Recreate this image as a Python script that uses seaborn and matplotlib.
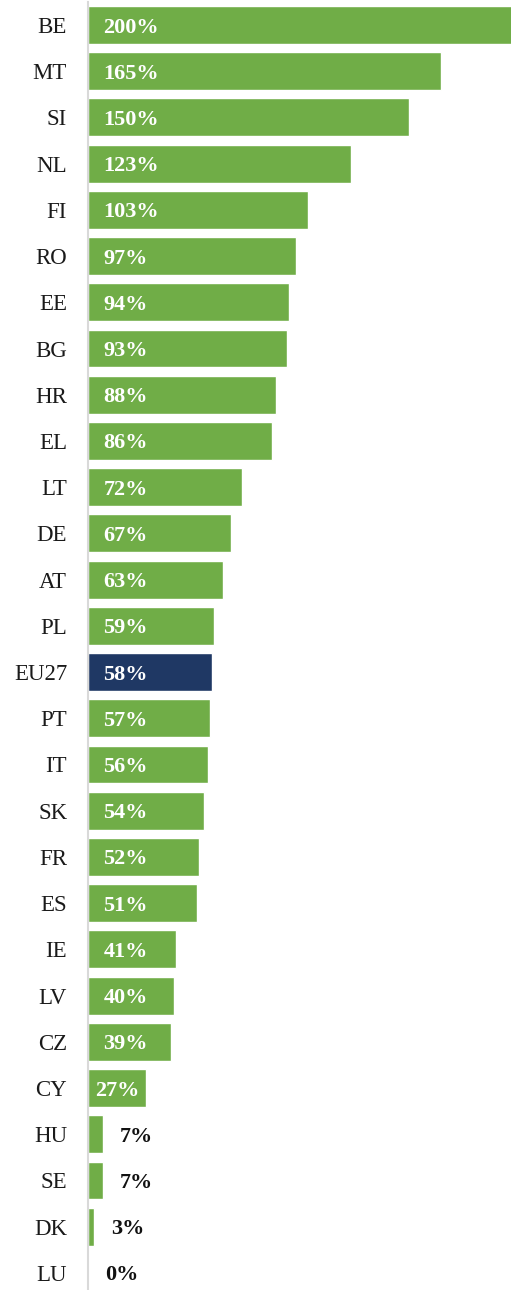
import matplotlib
matplotlib.use("Agg")
import matplotlib.pyplot as plt
import seaborn as sns
import pandas as pd

countries = ["BE", "MT", "SI", "NL", "FI", "RO", "EE", "BG", "HR", "EL", "LT", "DE", "AT", "PL",
             "EU27", "PT", "IT", "SK", "FR", "ES", "IE", "LV", "CZ", "CY", "HU", "SE", "DK", "LU"]
values = [200, 165, 150, 123, 103, 97, 94, 93, 88, 86, 72, 67, 63, 59,
          58, 57, 56, 54, 52, 51, 41, 40, 39, 27, 7, 7, 3, 0]

GREEN = "#70AD47"
NAVY = "#1F3864"

df = pd.DataFrame({"country": countries, "value": values})
df["group"] = ["EU" if c == "EU27" else "MS" for c in countries]

sns.set_theme(style="white")
plt.rcParams["font.family"] = ["Liberation Serif", "DejaVu Serif"]

W, H = 511, 1290
fig = plt.figure(figsize=(W / 100, H / 100), dpi=100)
ax_left = 88.0
ax_top = 1.9
ax_bottom = 1296.0
ax = fig.add_axes([ax_left / W, (H - ax_bottom) / H, (W - ax_left) / W, (ax_bottom - ax_top) / H])

sns.barplot(data=df, y="country", x="value", hue="group", palette={"MS": GREEN, "EU": NAVY},
            dodge=False, width=0.82, legend=False, ax=ax, saturation=1)

px_per_unit = 2.14
ax.set_xlim(0, (W - ax_left) / px_per_unit)
ax.set_ylim(len(countries) - 0.5, -0.5)

ax.set_xlabel("")
ax.set_ylabel("")
ax.set_xticks([])
ax.tick_params(axis="y", length=0, pad=15, labelsize=16.5, labelcolor="#1a1a1a")
for s in ["top", "right", "bottom"]:
    ax.spines[s].set_visible(False)
ax.spines["left"].set_color("#D9D9D9")
ax.spines["left"].set_linewidth(1.5)

for i, v in enumerate(values):
    if v >= 30:
        ax.annotate(f"{v}%", xy=(0, i), xytext=(11, 0), textcoords="offset points",
                    va="center_baseline", ha="left", color="white", fontsize=16, fontweight="bold")
    elif v >= 15:
        ax.annotate(f"{v}%", xy=(v / 2, i), xytext=(0, 0), textcoords="offset points",
                    va="center_baseline", ha="center", color="white", fontsize=16, fontweight="bold")
    else:
        ax.annotate(f"{v}%", xy=(v, i), xytext=(12, 0), textcoords="offset points",
                    va="center_baseline", ha="left", color="#111111", fontsize=16, fontweight="bold")

fig.savefig("out.png", dpi=100)
